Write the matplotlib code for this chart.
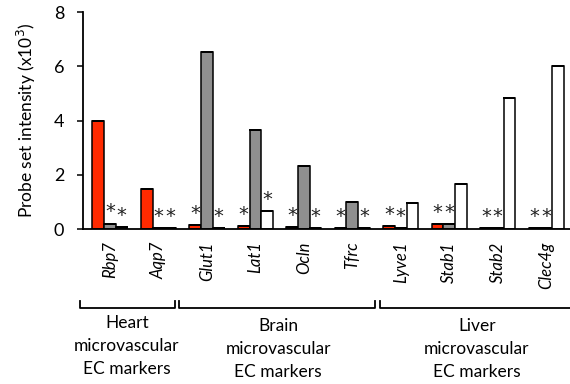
import matplotlib
matplotlib.use("Agg")
import matplotlib.pyplot as plt
import matplotlib.transforms as mtransforms
import numpy as np

plt.rcParams["font.family"] = ["Lato", "DejaVu Sans"]

# marker genes, one group of three bars each (heart, brain, liver EC)
genes = ["Rbp7", "Aqp7", "Glut1", "Lat1", "Ocln", "Tfrc",
         "Lyve1", "Stab1", "Stab2", "Clec4g"]

# probe set intensity, x10^3
heart = [4.00, 1.49, 0.15, 0.10, 0.07, 0.03, 0.12, 0.18, 0.05, 0.03]
brain = [0.20, 0.03, 6.55, 3.66, 2.33, 1.01, 0.05, 0.18, 0.05, 0.03]
liver = [0.07, 0.03, 0.05, 0.65, 0.05, 0.03, 0.95, 1.65, 4.85, 6.00]

# significance stars: which bars are marked
heart_star = [False, False, True, True, True, True, True, True, True, True]
brain_star = [True, True, False, False, False, False, True, True, True, True]
liver_star = [True, True, True, True, True, True, False, False, False, False]

groups = ["Heart\nmicrovascular\nEC markers",
          "Brain\nmicrovascular\nEC markers",
          "Liver\nmicrovascular\nEC markers"]

fig = plt.figure(figsize=(5.70, 3.84), dpi=100)
ax = fig.add_axes([83 / 570, 1 - 229 / 384, 487 / 570, 216.7 / 384])

x = np.arange(len(genes))
w = 0.24
series = [
    (heart, heart_star, "#ff2a00", -w),
    (brain, brain_star, "#8f8f8f", 0.0),
    (liver, liver_star, "white", w),
]
for vals, stars, color, off in series:
    ax.bar(x + off, vals, width=w, color=color, edgecolor="black",
           linewidth=1.1, zorder=2)
    ax.errorbar(x + off, vals, yerr=np.zeros(len(vals)), fmt="none",
                ecolor="black", capsize=4.6, capthick=1.3, elinewidth=0,
                zorder=3)
    for xi, v, s in zip(x + off, vals, stars):
        if s:
            ax.annotate("*", (xi, v), textcoords="offset points",
                        xytext=(0, 1.5), ha="center", va="bottom",
                        fontsize=14, color="#222222", family="DejaVu Sans")

ax.set_xlim(-0.555, 9.49)
ax.set_ylim(0, 8)
ax.set_yticks([0, 2, 4, 6, 8])
ax.tick_params(axis="y", labelsize=13, length=4.5, width=1.1, pad=9)
ax.set_xticks(x)
ax.set_xticklabels(genes, rotation=90, fontstyle="italic", fontsize=12,
                   ha="center", va="top")
ax.tick_params(axis="x", length=0, pad=9)
ax.set_ylabel("Probe set intensity (x10$^3$)", fontsize=12.5, labelpad=11)

for side in ("top", "right"):
    ax.spines[side].set_visible(False)
for side in ("left", "bottom"):
    ax.spines[side].set_linewidth(1.3)

# brackets grouping the genes by tissue
trans = mtransforms.blended_transform_factory(ax.transData, ax.transAxes)
bracket_x = [(-0.62, 1.34), (1.42, 5.47), (5.57, 9.8)]
label_x = [0.35, 3.47, 7.57]
label_y = [-0.395, -0.41, -0.41]
y_lo, y_hi = -0.365, -0.33
for (x0, x1), lx, ly, text in zip(bracket_x, label_x, label_y, groups):
    ax.plot([x0, x0, x1, x1], [y_hi, y_lo, y_lo, y_hi], color="black",
            lw=1.3, transform=trans, clip_on=False)
    ax.text(lx, ly, text, transform=trans, ha="center", va="top",
            fontsize=12.5, linespacing=1.55)

fig.savefig("out.png", dpi=100)
